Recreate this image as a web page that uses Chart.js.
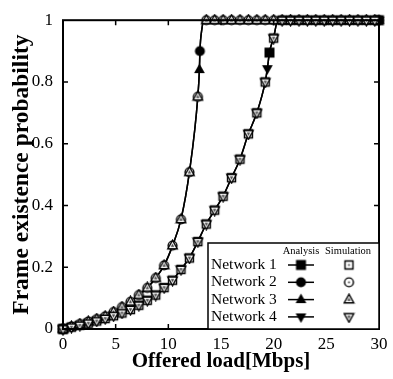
<!DOCTYPE html>
<html>
<head>
<meta charset="utf-8">
<script src="https://cdn.jsdelivr.net/npm/chart.js@4.4.1/dist/chart.umd.min.js"></script>
<style>
  html, body { margin: 0; padding: 0; background: #fff; }
  #wrap { width: 393px; height: 379px; }
</style>
</head>
<body>
<div id="wrap"><canvas id="frameChart" width="393" height="379"></canvas></div>
<script>
// offered load of the simulation runs [Mbps]
const simLoad = [0, 0.8, 1.6, 2.4, 3.2, 4.0, 4.8, 5.6, 6.4, 7.2, 8.0, 8.8, 9.6, 10.4, 11.2, 12.0,
    12.8, 13.6, 14.4, 15.2, 16.0, 16.8, 17.6, 18.4, 19.2, 20.0, 20.8, 21.6, 22.4, 23.2, 24.0,
    24.8, 25.6, 26.4, 27.2, 28.0, 28.8, 29.6];

// simulation results
const simNet1 = [0, 0.006, 0.012, 0.019, 0.026, 0.034, 0.043, 0.052, 0.063, 0.077, 0.093, 0.11,
    0.134, 0.158, 0.193, 0.23, 0.283, 0.34, 0.385, 0.43, 0.49, 0.55, 0.632, 0.70, 0.80, 0.942,
    1, 1, 1, 1, 1, 1, 1, 1, 1, 1, 1, 1];
const simNet4 = [0, 0.006, 0.012, 0.019, 0.026, 0.034, 0.043, 0.052, 0.063, 0.077, 0.093, 0.11,
    0.134, 0.158, 0.193, 0.23, 0.283, 0.34, 0.385, 0.43, 0.49, 0.55, 0.632, 0.70, 0.80, 0.942,
    1, 1, 1, 1, 1, 1, 1, 1, 1, 1, 1, 1];
const simNet2 = [0, 0.008, 0.016, 0.024, 0.032, 0.041, 0.055, 0.071, 0.088, 0.11, 0.133, 0.165,
    0.206, 0.27, 0.355, 0.508, 0.752, 1, 1, 1, 1, 1, 1, 1, 1, 1, 1, 1, 1, 1, 1, 1, 1, 1, 1, 1, 1, 1];
const simNet3 = [0, 0.008, 0.016, 0.024, 0.032, 0.041, 0.055, 0.071, 0.088, 0.11, 0.133, 0.165,
    0.206, 0.27, 0.355, 0.508, 0.752, 1, 1, 1, 1, 1, 1, 1, 1, 1, 1, 1, 1, 1, 1, 1, 1, 1, 1, 1, 1, 1];

// analysis curves
const anaLoadA = [0, 0.8, 1.6, 2.4, 3.2, 4.0, 4.8, 5.6, 6.4, 7.2, 8.0, 8.8, 9.6, 10.4, 11.2, 12.0,
    12.8, 13.6, 14.4, 15.2, 16.0, 16.8, 17.6, 18.4, 19.2, 19.4, 19.6, 20.0, 20.4, 30];
const anaNet1 = [0, 0.006, 0.012, 0.019, 0.026, 0.034, 0.043, 0.052, 0.063, 0.077, 0.093, 0.11,
    0.134, 0.158, 0.193, 0.23, 0.283, 0.34, 0.385, 0.43, 0.49, 0.55, 0.632, 0.70, 0.80, 0.843,
    0.895, 0.945, 1, 1];
const anaNet4 = anaNet1.slice();
const anaLoadB = [0, 0.8, 1.6, 2.4, 3.2, 4.0, 4.8, 5.6, 6.4, 7.2, 8.0, 8.8, 9.6, 10.4, 11.2, 12.0,
    12.8, 12.95, 13.0, 13.2, 13.35, 30];
const anaNet2 = [0, 0.008, 0.016, 0.024, 0.032, 0.041, 0.055, 0.071, 0.088, 0.11, 0.133, 0.165,
    0.206, 0.27, 0.355, 0.508, 0.752, 0.84, 0.9, 0.975, 1, 1];
const anaNet3 = anaNet2.slice();

// analysis marker points
const markLoad1 = [0, 19.6, 30], markNet1 = [0, 0.895, 1];
const markLoad2 = [0, 13.0, 30], markNet2 = [0, 0.9, 1];
const markLoad3 = [0, 12.95, 30], markNet3 = [0, 0.84, 1];
const markLoad4 = [0, 19.4, 30], markNet4 = [0, 0.843, 1];

const xTicks = [0, 5, 10, 15, 20, 25, 30];
const yTicks = [0, 0.2, 0.4, 0.6, 0.8, 1];
const networks = ['Network 1', 'Network 2', 'Network 3', 'Network 4'];

const SERIF = "'Liberation Serif', 'Times New Roman', serif";

function pairs(xs, ys) {
    return xs.map((x, i) => ({ x: x, y: ys[i] }));
}

// small canvases used as point styles
function marker(shape, filled) {
    const c = document.createElement('canvas');
    const s = 13;
    c.width = s; c.height = s;
    const g = c.getContext('2d');
    const m = s / 2;
    g.lineWidth = 1.4;
    g.strokeStyle = '#000';
    g.fillStyle = filled ? '#000' : '#fff';
    g.beginPath();
    if (shape === 'square') {
        const h = filled ? 5 : 4;
        g.rect(m - h, m - h, 2 * h, 2 * h);
    } else if (shape === 'circle') {
        g.arc(m, m, filled ? 5 : 4.4, 0, Math.PI * 2);
    } else {
        const r = filled ? 6 : 5.3;
        const dir = shape === 'up' ? 1 : -1;
        g.moveTo(m, m - dir * r);
        g.lineTo(m + r * 0.9, m + dir * r * 0.6);
        g.lineTo(m - r * 0.9, m + dir * r * 0.6);
        g.closePath();
    }
    g.fill();
    if (!filled) {
        g.stroke();
        g.fillStyle = '#444';
        g.beginPath();
        if (shape === 'square' || shape === 'circle') {
            g.arc(m, m, 1, 0, Math.PI * 2);
        } else {
            const dir = shape === 'up' ? 1 : -1;
            g.moveTo(m, m - dir * 1.9);
            g.lineTo(m + 1.7, m + dir * 1.3);
            g.lineTo(m - 1.7, m + dir * 1.3);
            g.closePath();
        }
        g.fill();
    }
    return c;
}

const simMarks = [marker('square', false), marker('circle', false), marker('up', false), marker('down', false)];
const anaMarks = [marker('square', true), marker('circle', true), marker('up', true), marker('down', true)];

function analysisLine(xs, ys) {
    return {
        type: 'line', data: pairs(xs, ys), borderColor: '#000', borderWidth: 1.5,
        pointRadius: 0, cubicInterpolationMode: 'monotone', fill: false, order: 20, clip: false
    };
}
function points(xs, ys, style, order) {
    return {
        type: 'line', data: pairs(xs, ys), showLine: false, pointStyle: style,
        pointRadius: 5, pointHoverRadius: 5, order: order, clip: false
    };
}

const frameAndLegend = {
    id: 'frameAndLegend',
    afterDraw(chart) {
        const ctx = chart.ctx;
        const a = chart.chartArea;
        const xs = chart.scales.x, ys = chart.scales.y;
        ctx.save();
        ctx.strokeStyle = '#000';
        ctx.lineWidth = 2;
        ctx.strokeRect(a.left, a.top, a.right - a.left, a.bottom - a.top);
        ctx.lineWidth = 1.5;
        ctx.beginPath();
        xTicks.slice(1, -1).forEach(v => {
            const px = xs.getPixelForValue(v);
            ctx.moveTo(px, a.bottom); ctx.lineTo(px, a.bottom - 5);
            ctx.moveTo(px, a.top); ctx.lineTo(px, a.top + 5);
        });
        yTicks.slice(1, -1).forEach(v => {
            const py = ys.getPixelForValue(v);
            ctx.moveTo(a.left, py); ctx.lineTo(a.left + 5, py);
            ctx.moveTo(a.right, py); ctx.lineTo(a.right - 5, py);
        });
        ctx.stroke();

        // legend box
        const bx = a.right - 171, by = a.bottom - 86;
        ctx.fillStyle = '#fff';
        ctx.fillRect(bx, by, 171, 86);
        ctx.lineWidth = 1.5;
        ctx.strokeRect(bx, by, 171, 86);
        ctx.fillStyle = '#000';
        ctx.font = '10.5px ' + SERIF;
        ctx.textAlign = 'center';
        ctx.textBaseline = 'alphabetic';
        ctx.fillText('Analysis', bx + 93, by + 11);
        ctx.fillText('Simulation', bx + 140, by + 11);
        ctx.font = '15.5px ' + SERIF;
        ctx.textAlign = 'left';
        ctx.textBaseline = 'middle';
        networks.forEach((name, i) => {
            const ry = by + 22 + i * 17.3;
            ctx.fillText(name, bx + 3, ry);
            ctx.lineWidth = 1.5;
            ctx.beginPath();
            ctx.moveTo(bx + 80, ry); ctx.lineTo(bx + 106, ry);
            ctx.stroke();
            const am = anaMarks[i], sm = simMarks[i];
            ctx.drawImage(am, bx + 93 - am.width / 2, ry - am.height / 2);
            ctx.drawImage(sm, bx + 141 - sm.width / 2, ry - sm.height / 2);
        });
        ctx.restore();
    }
};

new Chart(document.getElementById('frameChart'), {
    type: 'line',
    data: {
        datasets: [
            analysisLine(anaLoadA, anaNet1),
            analysisLine(anaLoadB, anaNet2),
            analysisLine(anaLoadB, anaNet3),
            analysisLine(anaLoadA, anaNet4),
            points(markLoad1, markNet1, anaMarks[0], 9),
            points(markLoad2, markNet2, anaMarks[1], 8),
            points(markLoad3, markNet3, anaMarks[2], 7),
            points(markLoad4, markNet4, anaMarks[3], 6),
            points(simLoad, simNet1, simMarks[0], 5),
            points(simLoad, simNet2, simMarks[1], 4),
            points(simLoad, simNet3, simMarks[2], 3),
            points(simLoad, simNet4, simMarks[3], 2)
        ]
    },
    options: {
        responsive: false,
        animation: false,
        devicePixelRatio: 1,
        layout: { padding: { top: 13, right: 14, left: 0, bottom: 0 } },
        plugins: { legend: { display: false }, tooltip: { enabled: false } },
        scales: {
            x: {
                type: 'linear', min: 0, max: 30,
                afterBuildTicks: s => { s.ticks = xTicks.map(v => ({ value: v })); },
                afterFit: s => { s.height = 50; },
                grid: { display: false, drawTicks: false },
                border: { display: false },
                ticks: { color: '#000', padding: 5, maxRotation: 0, font: { family: SERIF, size: 17 } },
                title: {
                    display: true, text: 'Offered load[Mbps]', color: '#000', padding: { top: 0, bottom: 5 },
                    font: { family: SERIF, size: 21, weight: 'bold' }
                }
            },
            y: {
                type: 'linear', min: 0, max: 1,
                afterBuildTicks: s => { s.ticks = yTicks.map(v => ({ value: v })); },
                afterFit: s => { s.width = 63; },
                grid: { display: false, drawTicks: false },
                border: { display: false },
                ticks: {
                    color: '#000', padding: 10, font: { family: SERIF, size: 17 },
                    callback: v => (v === 0 || v === 1) ? String(v) : v.toFixed(1)
                },
                title: {
                    display: true, text: 'Frame existence probability', color: '#000', padding: { top: 8, bottom: 0 },
                    font: { family: SERIF, size: 23.5, weight: 'bold' }
                }
            }
        }
    },
    plugins: [frameAndLegend]
});
</script>
</body>
</html>
